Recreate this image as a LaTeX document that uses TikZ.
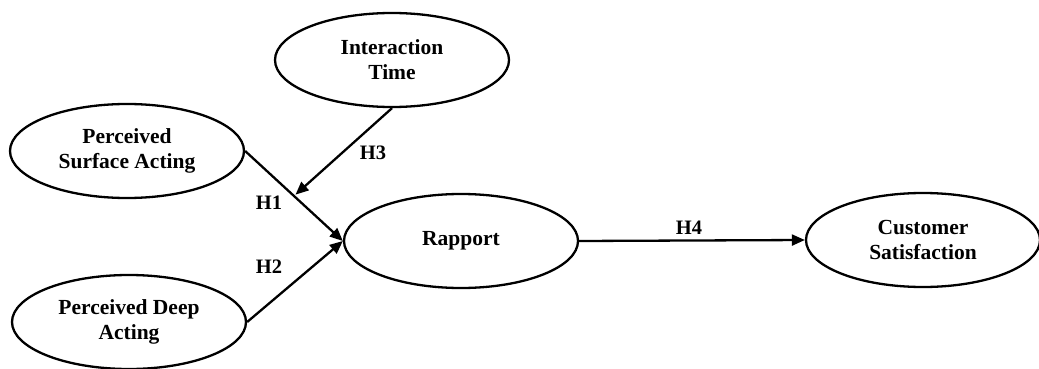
\documentclass[tikz,border=0pt]{standalone}
\usepackage{fontspec}
\setmainfont{Liberation Serif}
\usetikzlibrary{shapes.geometric,arrows.meta,calc}
\begin{document}
\begin{tikzpicture}[x=1pt,y=-1pt,
  construct/.style={draw, ellipse, line width=2.3pt, inner sep=0pt,
    minimum width=234pt, minimum height=94pt, align=center,
    font=\fontsize{21.5}{25}\selectfont\bfseries},
  hyp/.style={font=\fontsize{20.5}{24}\selectfont\bfseries, inner sep=0pt},
  link/.style={line width=2.3pt, -{Triangle[length=13pt,width=11pt]}}]
\useasboundingbox (0,0) rectangle (1039,369);
\node[construct] (it) at (392,60) {Interaction\\Time};
\node[construct] (psa) at (127,151) {Perceived\\Surface Acting};
\node[construct] (pda) at (129,322) {Perceived Deep\\Acting};
\node[construct] (rap) at (461,241) {Rapport};
\node[construct] (cs) at (923,240) {Customer\\Satisfaction};
\draw[link] (psa.east) -- (rap.west);
\draw[link] (pda.east) -- (rap.west);
\coordinate (m) at ($(psa.east)!0.5!(rap.west)$);
\draw[link, shorten >=2pt] (it.south) -- (m);
\draw[link] (rap.east) -- (cs.west);
\node[hyp] (h3) at (373,153) {H3};
\node[hyp] (h1) at (269,203) {H1};
\node[hyp] (h2) at (269,267) {H2};
\node[hyp] (h4) at (689,228) {H4};
\end{tikzpicture}
\end{document}
